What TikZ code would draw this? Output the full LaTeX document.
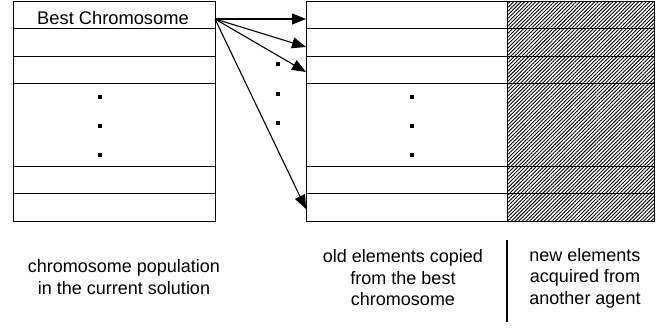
\documentclass[tikz,border=0pt]{standalone}
\usepackage{fontspec}
\setmainfont{Liberation Sans}
\usetikzlibrary{arrows.meta,patterns.meta}
\begin{document}
\begin{tikzpicture}[x=1pt,y=-1pt,
  cell/.style={draw, line width=1.3pt, inner sep=0pt, anchor=north west},
  hatchcell/.style={cell, pattern={Lines[angle=45, distance=2.6pt, line width=0.9pt]}},
  dotmark/.style={fill=black, rectangle, inner sep=0pt, minimum size=3.5pt},
  arr/.style={line width=1.1pt, -{Triangle[length=14pt,width=11pt]}},
  lbl/.style={align=center, font=\fontsize{18}{21.5}\selectfont, inner sep=0pt}
]
\useasboundingbox (0,0) rectangle (662,328);
% left table
\node[cell, minimum width=202pt, minimum height=27pt] (L1) at (13,1) {};
\node[cell, minimum width=202pt, minimum height=28pt] (L2) at (13,28) {};
\node[cell, minimum width=202pt, minimum height=27pt] (L3) at (13,56) {};
\node[cell, minimum width=202pt, minimum height=83pt] (L4) at (13,83) {};
\node[cell, minimum width=202pt, minimum height=27pt] (L5) at (13,166) {};
\node[cell, minimum width=202pt, minimum height=28pt] (L6) at (13,193) {};
\node[anchor=base, font=\fontsize{18.3}{21.5}\selectfont, inner sep=0pt] (best) at (113,25) {Best Chromosome};
% right table, white part
\node[cell, minimum width=201pt, minimum height=27pt] (R1) at (306,1) {};
\node[cell, minimum width=201pt, minimum height=28pt] (R2) at (306,28) {};
\node[cell, minimum width=201pt, minimum height=27pt] (R3) at (306,56) {};
\node[cell, minimum width=201pt, minimum height=83pt] (R4) at (306,83) {};
\node[cell, minimum width=201pt, minimum height=27pt] (R5) at (306,166) {};
\node[cell, minimum width=201pt, minimum height=28pt] (R6) at (306,193) {};
% right table, hatched part
\node[hatchcell, minimum width=147pt, minimum height=27pt] (H1) at (507,1) {};
\node[hatchcell, minimum width=147pt, minimum height=28pt] (H2) at (507,28) {};
\node[hatchcell, minimum width=147pt, minimum height=27pt] (H3) at (507,56) {};
\node[hatchcell, minimum width=147pt, minimum height=83pt] (H4) at (507,83) {};
\node[hatchcell, minimum width=147pt, minimum height=27pt] (H5) at (507,166) {};
\node[hatchcell, minimum width=147pt, minimum height=28pt] (H6) at (507,193) {};
% dots
\node[dotmark] (dl1) at (100,97) {};
\node[dotmark] (dl2) at (100,126) {};
\node[dotmark] (dl3) at (100,155) {};
\node[dotmark] (dm1) at (278,64) {};
\node[dotmark] (dm2) at (278,94) {};
\node[dotmark] (dm3) at (278,123) {};
\node[dotmark] (dr1) at (412,97) {};
\node[dotmark] (dr2) at (412,126) {};
\node[dotmark] (dr3) at (412,155) {};
% arrows
\coordinate (src) at (215,19);
\coordinate (t1) at (306,19);
\coordinate (t2) at (306,47);
\coordinate (t3) at (306,72);
\coordinate (t4) at (306,209);
\draw[arr] (src) -- (t1);
\draw[arr] (src) -- (t2);
\draw[arr] (src) -- (t3);
\draw[arr] (src) -- (t4);
% labels
\node[lbl] (lab1) at (124,277) {chromosome population\\in the current solution};
\node[lbl] (lab2) at (403,278) {old elements copied\\from the best\\chromosome};
\node[lbl] (lab3) at (585,278) {new elements\\acquired from\\another agent};
\coordinate (s1) at (507,240);
\coordinate (s2) at (507,322);
\draw[line width=1.3pt] (s1) -- (s2);
\end{tikzpicture}
\end{document}
